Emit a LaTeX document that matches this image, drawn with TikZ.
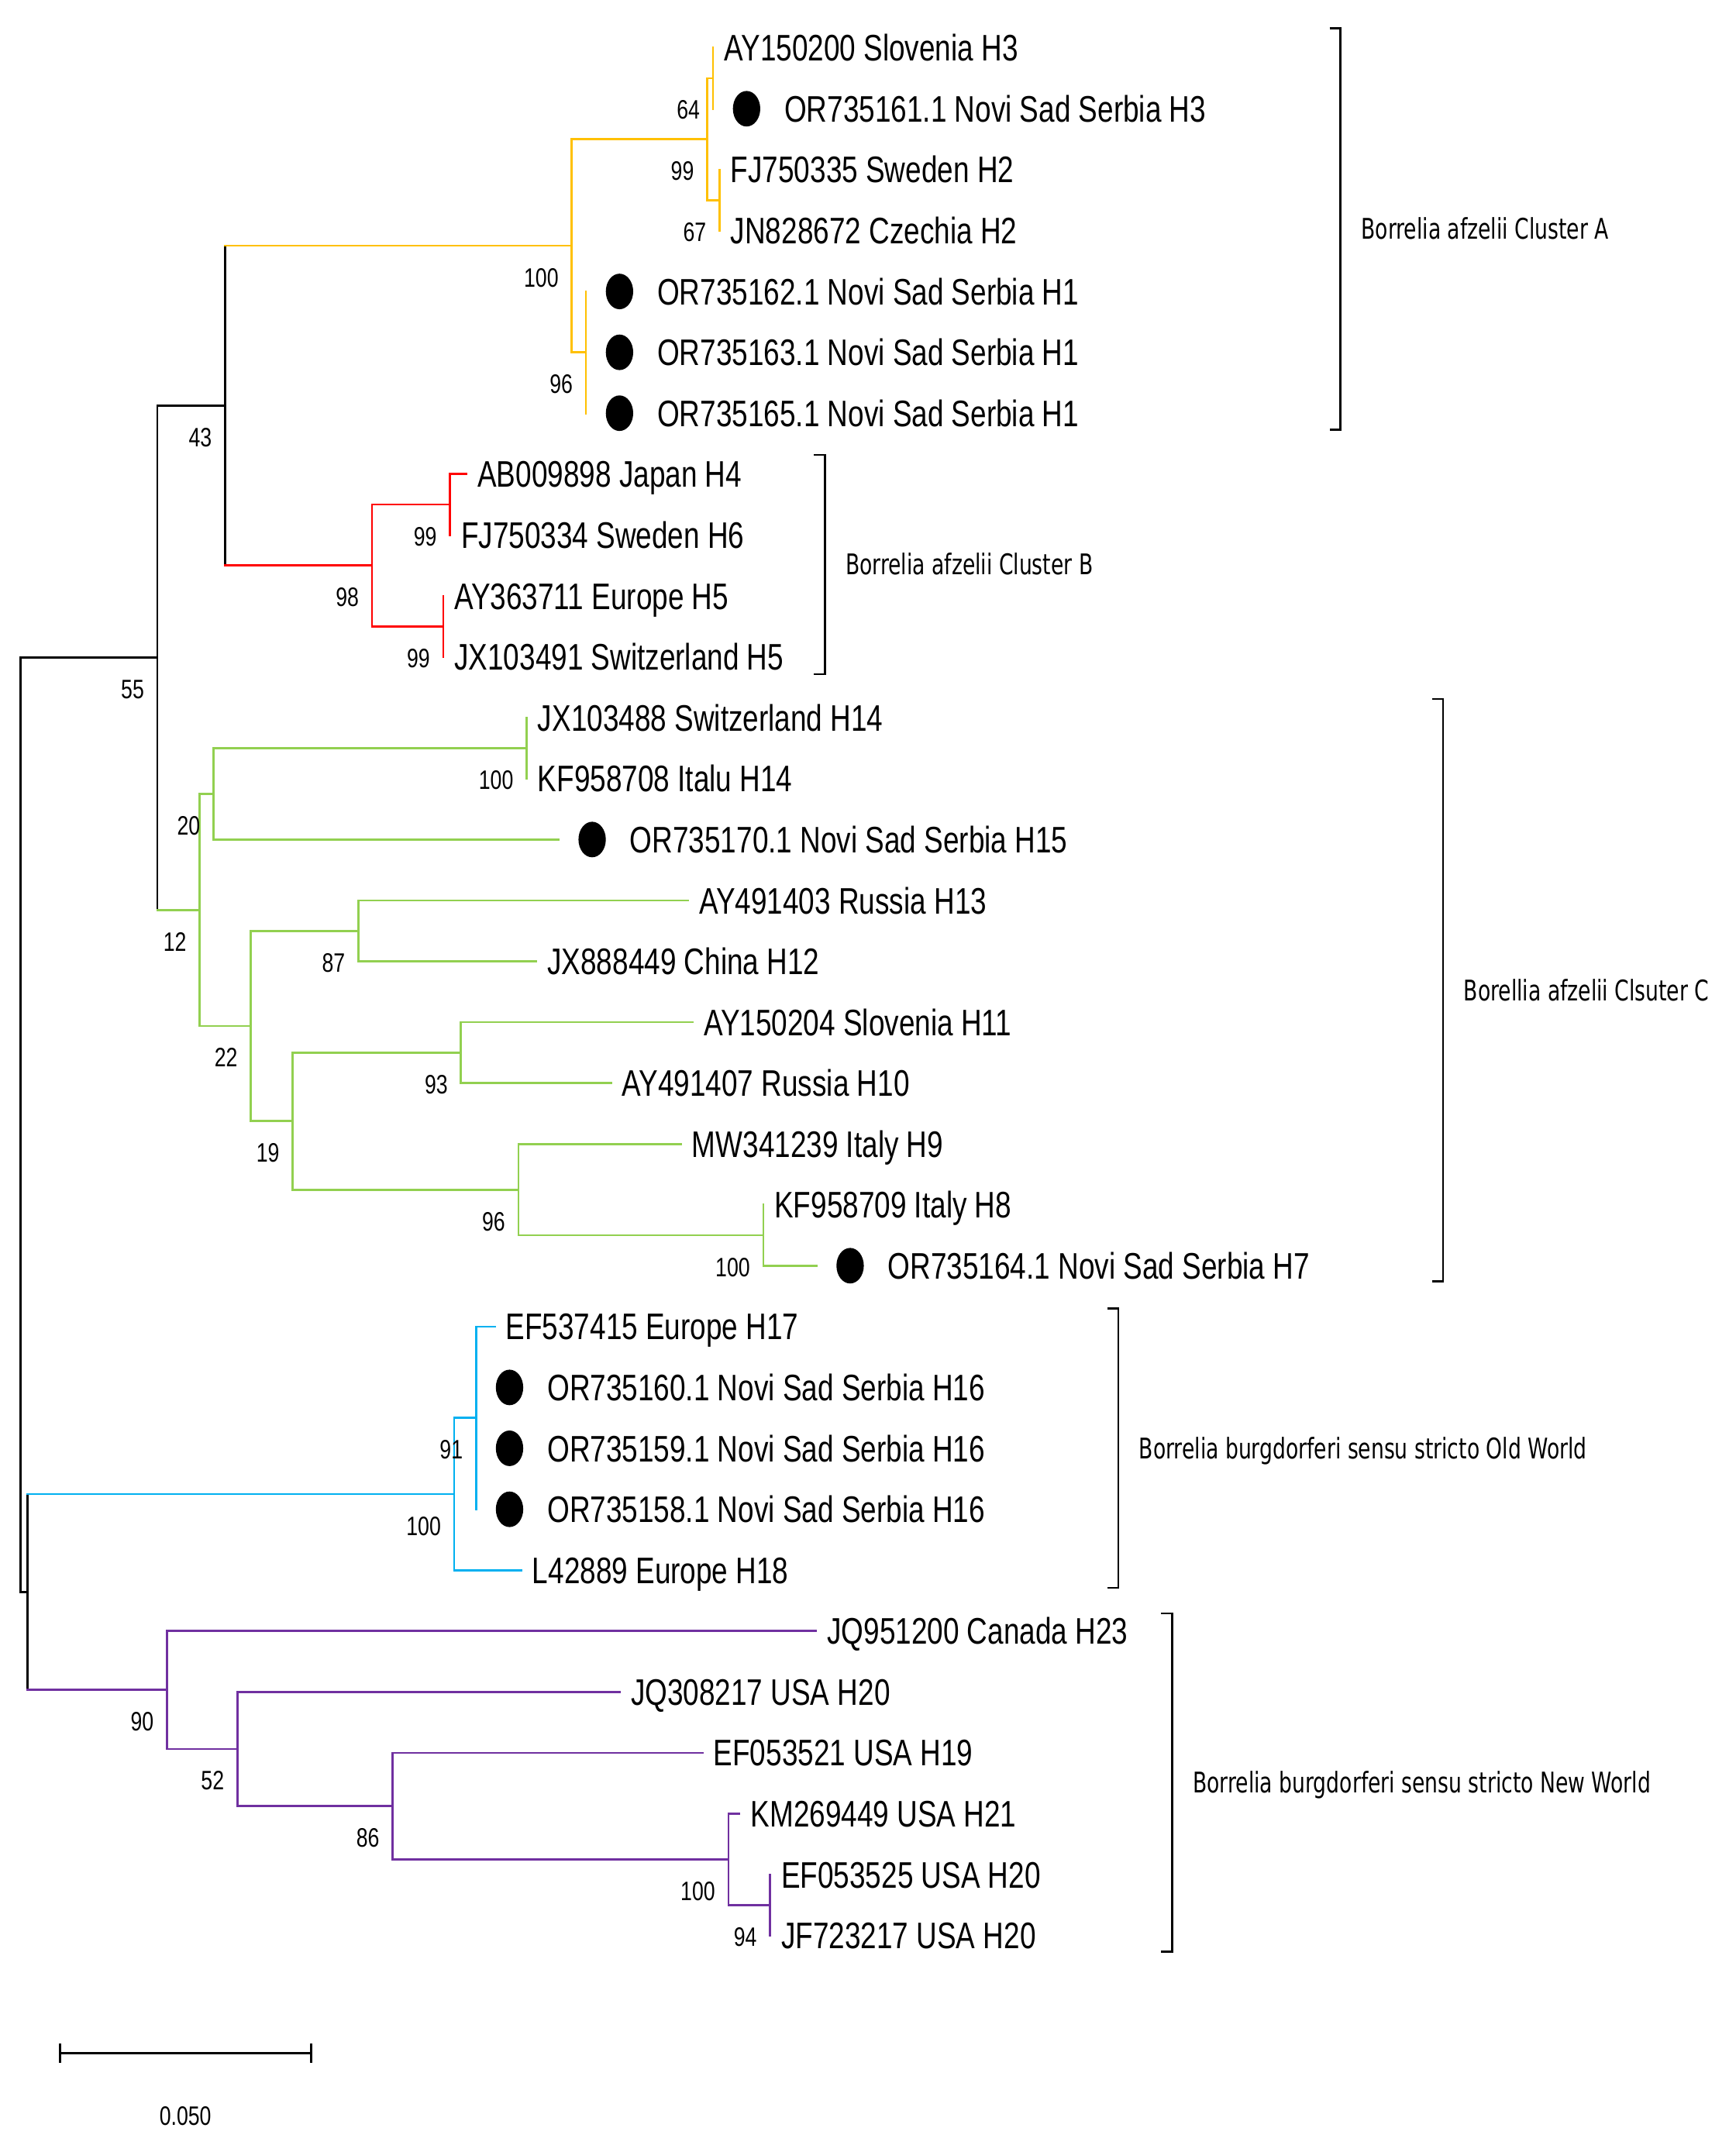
\documentclass[tikz,border=0pt]{standalone}
\usepackage{fontspec}
\usetikzlibrary{shapes.geometric,calc}
\newfontfamily\taxfont{Liberation Sans}[FakeStretch=0.775]
\newfontfamily\clfont{DejaVu Sans}[FakeStretch=0.725]
\definecolor{ylw}{HTML}{FFC000}
\definecolor{rd}{HTML}{FF0000}
\definecolor{grn}{HTML}{92D050}
\definecolor{cyn}{HTML}{00B0F0}
\definecolor{prp}{HTML}{7030A0}
\tikzset{
  tax/.style={font={\taxfont\fontsize{27}{27}\selectfont}, anchor=base west, inner sep=0pt},
  bs/.style={font={\taxfont\fontsize{19.5}{19.5}\selectfont}, anchor=base east, inner sep=0pt},
  cl/.style={font={\clfont\fontsize{20.8}{20.8}\selectfont}, anchor=base west, inner sep=0pt},
  dotmark/.style={ellipse, fill=black, draw=none, minimum width=20pt, minimum height=26pt, inner sep=0pt},
  br/.style={line width=1.5pt, draw=black},
  blk/.style={line width=1.5pt, draw=black, line cap=rect},
  yl/.style={line width=1.5pt, draw=ylw, line cap=rect},
  rdl/.style={line width=1.5pt, draw=rd, line cap=rect},
  gr/.style={line width=1.5pt, draw=grn, line cap=rect},
  cy/.style={line width=1.5pt, draw=cyn, line cap=rect},
  pr/.style={line width=1.5pt, draw=prp, line cap=rect},
}
\begin{document}
\begin{tikzpicture}[x=1pt,y=-1pt]
\useasboundingbox[fill=white] (0,0) rectangle (1269.1,1568.3);
% tips
\coordinate (t1) at (521.3,35.0);
\coordinate (t2) at (521.3,79.5);
\coordinate (t3) at (526,124.0);
\coordinate (t4) at (526,168.6);
\coordinate (t5) at (428.4,213.1);
\coordinate (t6) at (428.4,257.6);
\coordinate (t7) at (428.4,302.1);
\coordinate (t8) at (341,346.6);
\coordinate (t9) at (329,391.2);
\coordinate (t10) at (324,435.7);
\coordinate (t11) at (324,480.2);
\coordinate (t12) at (385,524.7);
\coordinate (t13) at (385,569.2);
\coordinate (t14) at (408.4,613.8);
\coordinate (t15) at (503,658.3);
\coordinate (t16) at (392,702.8);
\coordinate (t17) at (506.4,747.3);
\coordinate (t18) at (446.6,791.8);
\coordinate (t19) at (497.7,836.4);
\coordinate (t20) at (558,880.9);
\coordinate (t21) at (597,925.4);
\coordinate (t22) at (361.6,969.9);
\coordinate (t23) at (348,1014.4);
\coordinate (t24) at (348,1058.9);
\coordinate (t25) at (348,1103.5);
\coordinate (t26) at (381,1148.0);
\coordinate (t27) at (596.5,1192.5);
\coordinate (t28) at (453,1237.0);
\coordinate (t29) at (513.5,1281.5);
\coordinate (t30) at (540.6,1326.0);
\coordinate (t31) at (563,1370.6);
\coordinate (t32) at (563,1415.1);
% internal nodes
\coordinate (nR) at (15,822.4);
\coordinate (nA) at (115,480.9);
\coordinate (nB) at (164.5,296.6);
\coordinate (nY1) at (418,179.7);
\coordinate (nY2) at (517,101.8);
\coordinate (n64) at (521.3,57.25);
\coordinate (n67) at (526,146.3);
\coordinate (nY3) at (428.4,257.6);
\coordinate (nR1) at (272,413.4);
\coordinate (nR2) at (329,368.9);
\coordinate (nR3) at (324,458.0);
\coordinate (nC) at (146,665.3);
\coordinate (nG1) at (156,580.4);
\coordinate (nG3) at (385,547.0);
\coordinate (nG2) at (183.4,750.1);
\coordinate (nG4) at (262,680.6);
\coordinate (nG5) at (214,819.7);
\coordinate (nG6) at (337,769.6);
\coordinate (nG7) at (379,869.8);
\coordinate (nG8) at (558,903.2);
\coordinate (nD) at (20,1164.0);
\coordinate (nO1) at (332,1092.4);
\coordinate (nO2) at (348,1036.7);
\coordinate (nP1) at (122,1235.6);
\coordinate (nP2) at (173.5,1278.7);
\coordinate (nP3) at (287,1320.4);
\coordinate (nP4) at (532.5,1359.4);
\coordinate (nP5) at (563,1392.9);
% black backbone
\draw[blk] (nR |- nA) -- (nR |- nD);
\draw[blk] (nR |- nA) -- (nA);
\draw[blk] (nR |- nD) -- (nD);
\draw[blk] (nA |- nB) -- (nA |- nC);
\draw[blk] (nA |- nB) -- (nB);
\draw[blk] (nB |- nY1) -- (nB |- nR1);
\draw[blk] (nD |- nO1) -- (nD |- nP1);
% yellow (cluster A)
\draw[yl] (nB |- nY1) -- (nY1);
\draw[yl] (nY1 |- nY2) -- (nY1 |- nY3);
\draw[yl] (nY1 |- nY2) -- (nY2);
\draw[yl] (nY1 |- nY3) -- (nY3);
\draw[yl] (nY2 |- n64) -- (nY2 |- n67);
\draw[yl] (nY2 |- n64) -- (n64);
\draw[yl] (nY2 |- n67) -- (n67);
\draw[yl] (n64 |- t1) -- (n64 |- t2);
\draw[yl] (n67 |- t3) -- (n67 |- t4);
\draw[yl] (nY3 |- t5) -- (nY3 |- t7);
% red (cluster B)
\draw[rdl] (nB |- nR1) -- (nR1);
\draw[rdl] (nR1 |- nR2) -- (nR1 |- nR3);
\draw[rdl] (nR1 |- nR2) -- (nR2);
\draw[rdl] (nR1 |- nR3) -- (nR3);
\draw[rdl] (nR2 |- t8) -- (nR2 |- t9);
\draw[rdl] (nR2 |- t8) -- (t8);
\draw[rdl] (nR3 |- t10) -- (nR3 |- t11);
% green (cluster C)
\draw[gr] (nA |- nC) -- (nC);
\draw[gr] (nC |- nG1) -- (nC |- nG2);
\draw[gr] (nC |- nG1) -- (nG1);
\draw[gr] (nC |- nG2) -- (nG2);
\draw[gr] (nG1 |- nG3) -- (nG1 |- t14);
\draw[gr] (nG1 |- nG3) -- (nG3);
\draw[gr] (nG1 |- t14) -- (t14);
\draw[gr] (nG3 |- t12) -- (nG3 |- t13);
\draw[gr] (nG2 |- nG4) -- (nG2 |- nG5);
\draw[gr] (nG2 |- nG4) -- (nG4);
\draw[gr] (nG2 |- nG5) -- (nG5);
\draw[gr] (nG4 |- t15) -- (nG4 |- t16);
\draw[gr] (nG4 |- t15) -- (t15);
\draw[gr] (nG4 |- t16) -- (t16);
\draw[gr] (nG5 |- nG6) -- (nG5 |- nG7);
\draw[gr] (nG5 |- nG6) -- (nG6);
\draw[gr] (nG5 |- nG7) -- (nG7);
\draw[gr] (nG6 |- t17) -- (nG6 |- t18);
\draw[gr] (nG6 |- t17) -- (t17);
\draw[gr] (nG6 |- t18) -- (t18);
\draw[gr] (nG7 |- t19) -- (nG7 |- nG8);
\draw[gr] (nG7 |- t19) -- (t19);
\draw[gr] (nG7 |- nG8) -- (nG8);
\draw[gr] (nG8 |- t20) -- (nG8 |- t21);
\draw[gr] (nG8 |- t21) -- (t21);
% cyan (Old World)
\draw[cy] (nD |- nO1) -- (nO1);
\draw[cy] (nO1 |- nO2) -- (nO1 |- t26);
\draw[cy] (nO1 |- nO2) -- (nO2);
\draw[cy] (nO1 |- t26) -- (t26);
\draw[cy] (nO2 |- t22) -- (nO2 |- t25);
\draw[cy] (nO2 |- t22) -- (t22);
% purple (New World)
\draw[pr] (nD |- nP1) -- (nP1);
\draw[pr] (nP1 |- t27) -- (nP1 |- nP2);
\draw[pr] (nP1 |- t27) -- (t27);
\draw[pr] (nP1 |- nP2) -- (nP2);
\draw[pr] (nP2 |- t28) -- (nP2 |- nP3);
\draw[pr] (nP2 |- t28) -- (t28);
\draw[pr] (nP2 |- nP3) -- (nP3);
\draw[pr] (nP3 |- t29) -- (nP3 |- nP4);
\draw[pr] (nP3 |- t29) -- (t29);
\draw[pr] (nP3 |- nP4) -- (nP4);
\draw[pr] (nP4 |- t30) -- (nP4 |- nP5);
\draw[pr] (nP4 |- t30) -- (t30);
\draw[pr] (nP4 |- nP5) -- (nP5);
\draw[pr] (nP5 |- t31) -- (nP5 |- t32);
% markers
\foreach \t in {2,5,6,7,14,21,23,24,25}{
  \node[dotmark] (dm\t) at ([xshift=24.5pt]t\t) {};
}
% taxon labels
\node[tax] (L1) at ([xshift=8pt,yshift=-9.7pt]t1) {AY150200 Slovenia H3};
\node[tax] (L2) at ([xshift=52pt,yshift=-9.7pt]t2) {OR735161.1 Novi Sad Serbia H3};
\node[tax] (L3) at ([xshift=8pt,yshift=-9.7pt]t3) {FJ750335 Sweden H2};
\node[tax] (L4) at ([xshift=8pt,yshift=-9.7pt]t4) {JN828672 Czechia H2};
\node[tax] (L5) at ([xshift=52pt,yshift=-9.7pt]t5) {OR735162.1 Novi Sad Serbia H1};
\node[tax] (L6) at ([xshift=52pt,yshift=-9.7pt]t6) {OR735163.1 Novi Sad Serbia H1};
\node[tax] (L7) at ([xshift=52pt,yshift=-9.7pt]t7) {OR735165.1 Novi Sad Serbia H1};
\node[tax] (L8) at ([xshift=8pt,yshift=-9.7pt]t8) {AB009898 Japan H4};
\node[tax] (L9) at ([xshift=8pt,yshift=-9.7pt]t9) {FJ750334 Sweden H6};
\node[tax] (L10) at ([xshift=8pt,yshift=-9.7pt]t10) {AY363711 Europe H5};
\node[tax] (L11) at ([xshift=8pt,yshift=-9.7pt]t11) {JX103491 Switzerland H5};
\node[tax] (L12) at ([xshift=8pt,yshift=-9.7pt]t12) {JX103488 Switzerland H14};
\node[tax] (L13) at ([xshift=8pt,yshift=-9.7pt]t13) {KF958708 Italu H14};
\node[tax] (L14) at ([xshift=52pt,yshift=-9.7pt]t14) {OR735170.1 Novi Sad Serbia H15};
\node[tax] (L15) at ([xshift=8pt,yshift=-9.7pt]t15) {AY491403 Russia H13};
\node[tax] (L16) at ([xshift=8pt,yshift=-9.7pt]t16) {JX888449 China H12};
\node[tax] (L17) at ([xshift=8pt,yshift=-9.7pt]t17) {AY150204 Slovenia H11};
\node[tax] (L18) at ([xshift=8pt,yshift=-9.7pt]t18) {AY491407 Russia H10};
\node[tax] (L19) at ([xshift=8pt,yshift=-9.7pt]t19) {MW341239 Italy H9};
\node[tax] (L20) at ([xshift=8pt,yshift=-9.7pt]t20) {KF958709 Italy H8};
\node[tax] (L21) at ([xshift=52pt,yshift=-9.7pt]t21) {OR735164.1 Novi Sad Serbia H7};
\node[tax] (L22) at ([xshift=8pt,yshift=-9.7pt]t22) {EF537415 Europe H17};
\node[tax] (L23) at ([xshift=52pt,yshift=-9.7pt]t23) {OR735160.1 Novi Sad Serbia H16};
\node[tax] (L24) at ([xshift=52pt,yshift=-9.7pt]t24) {OR735159.1 Novi Sad Serbia H16};
\node[tax] (L25) at ([xshift=52pt,yshift=-9.7pt]t25) {OR735158.1 Novi Sad Serbia H16};
\node[tax] (L26) at ([xshift=8pt,yshift=-9.7pt]t26) {L42889 Europe H18};
\node[tax] (L27) at ([xshift=8pt,yshift=-9.7pt]t27) {JQ951200 Canada H23};
\node[tax] (L28) at ([xshift=8pt,yshift=-9.7pt]t28) {JQ308217 USA H20};
\node[tax] (L29) at ([xshift=8pt,yshift=-9.7pt]t29) {EF053521 USA H19};
\node[tax] (L30) at ([xshift=8pt,yshift=-9.7pt]t30) {KM269449 USA H21};
\node[tax] (L31) at ([xshift=8pt,yshift=-9.7pt]t31) {EF053525 USA H20};
\node[tax] (L32) at ([xshift=8pt,yshift=-9.7pt]t32) {JF723217 USA H20};
% bootstrap values
\foreach \n/\v in {n64/64,nY2/99,n67/67,nY1/100,nY3/96,nB/43,nA/55,nR1/98,nR2/99,nR3/99,nG3/100,nG1/20,nC/12,nG2/22,nG4/87,nG5/19,nG6/93,nG7/96,nG8/100,nO2/91,nO1/100,nP1/90,nP2/52,nP3/86,nP4/100,nP5/94}{
  \node[bs] (bs\n) at ([xshift=-9.5pt,yshift=-30pt]\n) {\v};
}
% cluster brackets
\coordinate (bAt) at (980,20.6);   \coordinate (bAb) at (980,314);
\coordinate (bBt) at (603,332.5);  \coordinate (bBb) at (603,493);
\coordinate (bCt) at (1055,511);   \coordinate (bCb) at (1055,937);
\coordinate (bOt) at (817.6,956.5); \coordinate (bOb) at (817.6,1161);
\coordinate (bNt) at (857,1179.6); \coordinate (bNb) at (857,1427);
\foreach \b in {A,B,C,O,N}{
  \draw[br] ([xshift=-8pt]b\b t) -- (b\b t) -- (b\b b) -- ([xshift=-8pt]b\b b);
  \coordinate (bm\b) at ($(b\b t)!0.5!(b\b b)$);
}
\node[cl] (clA) at ([xshift=15pt,yshift=-7.6pt]bmA) {Borrelia afzelii Cluster A};
\node[cl] (clB) at ([xshift=15pt,yshift=-7.6pt]bmB) {Borrelia afzelii Cluster B};
\node[cl] (clC) at ([xshift=15pt,yshift=-7.6pt]bmC) {Borellia afzelii Clsuter C};
\node[cl] (clO) at ([xshift=15pt,yshift=-7.6pt]bmO) {Borrelia burgdorferi sensu stricto Old World};
\node[cl] (clN) at ([xshift=15pt,yshift=-7.6pt]bmN) {Borrelia burgdorferi sensu stricto New World};
% scale bar
\coordinate (sb1) at (43.8,1501);
\coordinate (sb2) at (227.4,1501);
\draw[br] (sb1) -- (sb2);
\draw[br] ([yshift=7pt]sb1) -- ([yshift=-7pt]sb1);
\draw[br] ([yshift=7pt]sb2) -- ([yshift=-7pt]sb2);
\node[bs, anchor=base] (sbl) at (135.5,1554) {0.050};
\end{tikzpicture}
\end{document}
